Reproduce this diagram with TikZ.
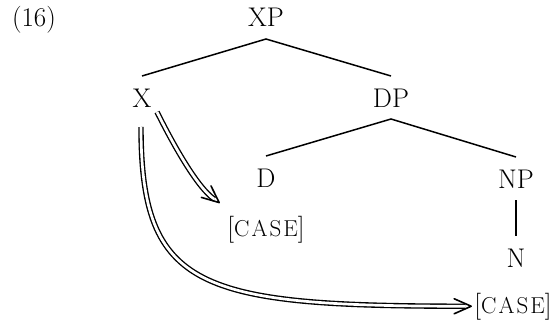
\documentclass[tikz,border=0pt]{standalone}
\usepackage{fontspec}
\setmainfont{Latin Modern Roman}
\usetikzlibrary{arrows.meta}
\newcommand{\casefeat}{{\fontsize{27}{32}\selectfont[}{\fontsize{23}{27}\selectfont\addfontfeatures{LetterSpace=9}CASE}{\fontsize{27}{32}\selectfont]}}
\begin{document}
\begin{tikzpicture}[x=1pt,y=-1pt,
  lab/.style={inner sep=0pt, anchor=base, font=\fontsize{27}{32}\selectfont},
  tnode/.style={lab, text height=19pt, text depth=0pt, outer sep=12pt},
  branch/.style={line width=1.5pt},
  agree/.style={double, line width=1.35pt, double distance=2.7pt, shorten >=6pt},
  dhead/.pic={\draw[line width=1.6pt, line join=round, line cap=round]
      (-17,-7.5) .. controls (-8,-3.5) .. (0,0) .. controls (-8,3.5) .. (-17,7.5);}]
\useasboundingbox (0,0) rectangle (560,321);
\node[lab] (ex) at (34,27) {(16)};
\node[tnode] (XP) at (266,27) {XP};
\node[tnode] (X) at (142,107) {X};
\node[tnode] (DP) at (391,107) {DP};
\node[tnode] (D) at (266,187) {D};
\node[tnode] (NP) at (516,188) {NP};
\node[tnode] (N) at (516,267) {N};
\node[lab] (c1) at (266,236) {\casefeat};
\node[lab] (c2) at (513,313) {\casefeat};
\draw[branch] (X.north) -- (XP.south) -- (DP.north);
\draw[branch] (D.north) -- (DP.south) -- (NP.north);
\draw[branch] (NP.south) -- (N.north);
\coordinate (s1) at (157,112);
\coordinate (s2) at (141,127);
\coordinate (t1) at ([xshift=-8pt,yshift=13pt]c1.north west);
\coordinate (t2) at ([xshift=-3pt]c2.west);
\draw[agree] (s1) .. controls (175,148) and (198,188) .. (t1);
\pic[rotate=-40] at (t1) {dhead};
\draw[agree] (s2) .. controls (141,290) and (200,306) .. (t2);
\pic at (t2) {dhead};
\end{tikzpicture}
\end{document}
